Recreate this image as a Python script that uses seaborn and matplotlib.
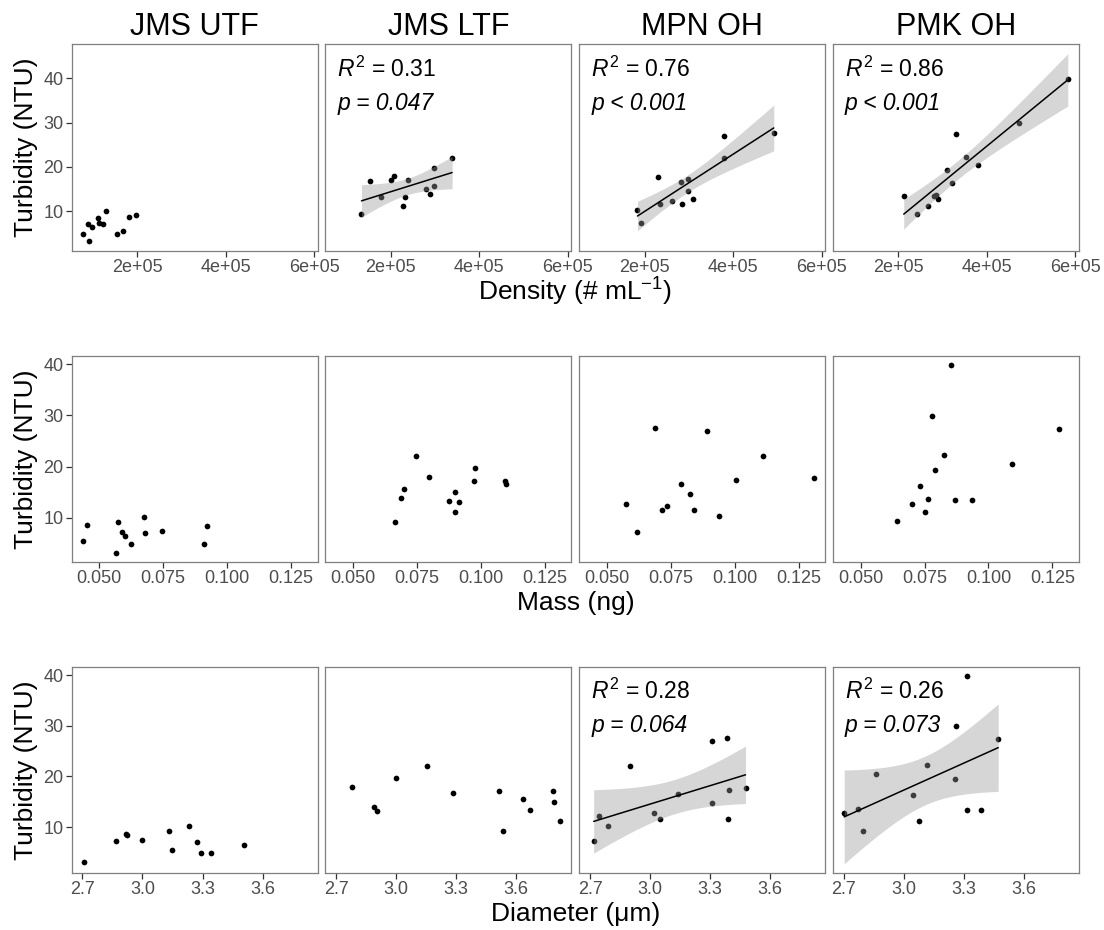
import numpy as np
import pandas as pd
import matplotlib
matplotlib.use("Agg")
import matplotlib.pyplot as plt
import seaborn as sns

# ---------------- data ----------------
sites = ["JMS UTF", "JMS LTF", "MPN OH", "PMK OH"]

jms_utf_turb = [3.2, 4.9, 4.9, 5.5, 6.5, 7.0, 7.2, 7.4, 8.35, 8.65, 9.2, 10.15]
jms_utf_dens = [0.902e5, 0.773e5, 1.549e5, 1.684e5, 0.985e5, 0.886e5, 1.233e5, 1.134e5, 1.112e5, 1.826e5, 1.968e5, 1.301e5]
jms_utf_mass = [0.0564, 0.0910, 0.0623, 0.0436, 0.0600, 0.0677, 0.0589, 0.0746, 0.0921, 0.0453, 0.0574, 0.0675]
jms_utf_diam = [2.71, 3.29, 3.34, 3.148, 3.507, 3.271, 2.869, 2.997, 2.924, 2.92, 3.133, 3.231]

jms_ltf_turb = [9.26, 16.7, 13.1, 17.1, 17.9, 11.2, 13.3, 17.1, 14.95, 13.9, 19.75, 15.6, 22.0]
jms_ltf_dens = [1.338e5, 1.525e5, 1.774e5, 2.016e5, 2.068e5, 2.271e5, 2.332e5, 2.391e5, 2.798e5, 2.888e5, 2.972e5, 2.979e5, 3.386e5]
jms_ltf_mass = [0.0664, 0.1098, 0.0915, 0.0974, 0.0797, 0.0901, 0.0877, 0.1096, 0.0899, 0.0687, 0.0977, 0.0701, 0.0748]
jms_ltf_diam = [3.534, 3.284, 2.907, 3.516, 2.782, 3.82, 3.669, 3.783, 3.787, 2.891, 2.999, 3.634, 3.155]

mpn_oh_turb = [10.3, 7.3, 17.7, 11.6, 12.25, 16.6, 11.6, 17.3, 14.65, 12.8, 26.9, 22.0, 27.6]
mpn_oh_dens = [1.835e5, 1.925e5, 2.294e5, 2.346e5, 2.626e5, 2.814e5, 2.852e5, 2.988e5, 2.988e5, 3.092e5, 3.785e5, 3.785e5, 4.915e5]
mpn_oh_mass = [0.0938, 0.0618, 0.1310, 0.0717, 0.0736, 0.0788, 0.0842, 0.1005, 0.0826, 0.0573, 0.0890, 0.1110, 0.0688]
mpn_oh_diam = [2.79, 2.718, 3.477, 3.049, 2.747, 3.141, 3.387, 3.392, 3.31, 3.02, 3.31, 2.9, 3.384]

pmk_oh_turb = [13.4, 9.3, 11.1, 13.45, 13.6, 12.8, 19.4, 16.3, 27.4, 22.2, 20.5, 29.9, 39.8]
pmk_oh_dens = [2.119e5, 2.419e5, 2.657e5, 2.807e5, 2.845e5, 2.897e5, 3.099e5, 3.204e5, 3.294e5, 3.518e5, 3.794e5, 4.72e5, 5.827e5]
pmk_oh_mass = [0.0937, 0.0642, 0.0753, 0.0868, 0.0762, 0.0702, 0.0790, 0.0732, 0.1274, 0.0828, 0.1092, 0.0780, 0.0855]
pmk_oh_diam = [3.385, 2.795, 3.075, 3.315, 2.772, 2.702, 3.255, 3.044, 3.472, 3.116, 2.861, 3.26, 3.317]

row_vars = ["density", "mass", "diameter"]
row_titles = ["Density (# mL$^{-1}$)", "Mass (ng)", "Diameter (μm)"]
density_ticks = [2e5, 4e5, 6e5]
density_tick_labels = ["2e+05", "4e+05", "6e+05"]
mass_ticks = [0.050, 0.075, 0.100, 0.125]
mass_tick_labels = ["0.050", "0.075", "0.100", "0.125"]
diam_ticks = [2.7, 3.0, 3.3, 3.6]
diam_tick_labels = ["2.7", "3.0", "3.3", "3.6"]
turb_ticks = [10, 20, 30, 40]

# regression annotations: (row, site) -> (R2 text, p text)
fits = {
    (0, "JMS LTF"): ("0.31", "p = 0.047"),
    (0, "MPN OH"): ("0.76", "p < 0.001"),
    (0, "PMK OH"): ("0.86", "p < 0.001"),
    (2, "MPN OH"): ("0.28", "p = 0.064"),
    (2, "PMK OH"): ("0.26", "p = 0.073"),
}

frames = []
for s, t, d, m, di in [
    ("JMS UTF", jms_utf_turb, jms_utf_dens, jms_utf_mass, jms_utf_diam),
    ("JMS LTF", jms_ltf_turb, jms_ltf_dens, jms_ltf_mass, jms_ltf_diam),
    ("MPN OH", mpn_oh_turb, mpn_oh_dens, mpn_oh_mass, mpn_oh_diam),
    ("PMK OH", pmk_oh_turb, pmk_oh_dens, pmk_oh_mass, pmk_oh_diam),
]:
    frames.append(pd.DataFrame({"site": s, "turbidity": t, "density": d,
                                "mass": m, "diameter": di}))
df = pd.concat(frames, ignore_index=True)

# ---------------- style ----------------
sns.set_theme(style="white")
plt.rcParams["font.family"] = ["Liberation Sans", "DejaVu Sans"]
plt.rcParams["mathtext.fontset"] = "custom"
plt.rcParams["mathtext.rm"] = "Liberation Sans"
plt.rcParams["mathtext.it"] = "Liberation Sans:italic"
plt.rcParams["mathtext.bf"] = "Liberation Sans:bold"

T975 = {11: 2.201, 10: 2.228, 12: 2.179}


def fit_band(x, y, n_pts=80):
    x = np.asarray(x, float)
    y = np.asarray(y, float)
    n = len(x)
    b1, b0 = np.polyfit(x, y, 1)
    resid = y - (b0 + b1 * x)
    s = np.sqrt(np.sum(resid ** 2) / (n - 2))
    xm = x.mean()
    sxx = np.sum((x - xm) ** 2)
    xs = np.linspace(x.min(), x.max(), n_pts)
    yh = b0 + b1 * xs
    se = s * np.sqrt(1.0 / n + (xs - xm) ** 2 / sxx)
    t = T975.get(n - 2, 2.2)
    return xs, yh, yh - t * se, yh + t * se


W, H = 1104, 930
fig = plt.figure(figsize=(W / 100, H / 100), dpi=100)

col_left = [71.7, 325.3, 579.3, 833.0]
panel_w = 246.0
row_top = [44.3, 355.7, 666.7]
panel_h = 206.4

tick_sets = [(density_ticks, density_tick_labels), (mass_ticks, mass_tick_labels),
             (diam_ticks, diam_tick_labels)]

for r, var in enumerate(row_vars):
    # shared limits for the row
    xmin, xmax = df[var].min(), df[var].max()
    ymin, ymax = df["turbidity"].min(), df["turbidity"].max()
    bands = {}
    for (rr, s) in fits:
        if rr != r:
            continue
        sub = df[df.site == s]
        band = fit_band(sub[var], sub["turbidity"])
        bands[s] = band
        ymin = min(ymin, band[2].min())
        ymax = max(ymax, band[3].max())
    xr = xmax - xmin
    yr = ymax - ymin
    xlim = (xmin - 0.05 * xr, xmax + 0.05 * xr)
    ylim = (ymin - 0.05 * yr, ymax + 0.05 * yr)

    for c, s in enumerate(sites):
        ax = fig.add_axes([col_left[c] / W, 1 - (row_top[r] + panel_h) / H,
                           panel_w / W, panel_h / H])
        sub = df[df.site == s]
        sns.scatterplot(data=sub, x=var, y="turbidity", ax=ax, color="black",
                        s=17, linewidth=0, zorder=2, legend=False)
        if s in bands:
            xs, yh, lo, hi = bands[s]
            ax.fill_between(xs, lo, hi, color="0.6", alpha=0.4, linewidth=0, zorder=3)
            sns.lineplot(x=xs, y=yh, ax=ax, color="black", linewidth=1.1, zorder=4)
            r2, ptxt = fits[(r, s)]
            ax.text(12 / panel_w, 1 - 32.5 / panel_h, "$R^2$ = " + r2,
                    transform=ax.transAxes, fontsize=16.5, ha="left", va="baseline",
                    color="black")
            ax.text(12 / panel_w, 1 - 65.7 / panel_h, ptxt,
                    transform=ax.transAxes, fontsize=16.5, ha="left", va="baseline",
                    color="black", fontstyle="italic")
        ax.set_xlim(xlim)
        ax.set_ylim(ylim)
        ticks, labels = tick_sets[r]
        ax.set_xticks(ticks)
        ax.set_xticklabels(labels)
        ax.set_yticks(turb_ticks)
        ax.set_yticklabels([str(v) for v in turb_ticks])
        ax.set_xlabel("")
        ax.set_ylabel("")
        for sp in ax.spines.values():
            sp.set_color("#7f7f7f")
            sp.set_linewidth(0.9)
        ax.tick_params(direction="out", length=4, width=0.9, color="#333333",
                       labelsize=13, labelcolor="#4d4d4d", pad=2)
        ax.tick_params(axis="x", bottom=True, top=False)
        if c == 0:
            ax.tick_params(axis="y", left=True)
            ax.set_ylabel("Turbidity (NTU)", fontsize=19, color="black", labelpad=4)
        else:
            ax.tick_params(axis="y", left=False, labelleft=False)
        if r == 0:
            ax.set_title(s, fontsize=22, color="black", pad=7)

    # row x-axis title
    xc = (col_left[0] + col_left[3] + panel_w) / 2 / W
    fig.text(xc, 1 - (row_top[r] + panel_h + 41) / H, row_titles[r],
             fontsize=19, ha="center", va="center", color="black")

fig.savefig("out.png", dpi=100, facecolor="white")
